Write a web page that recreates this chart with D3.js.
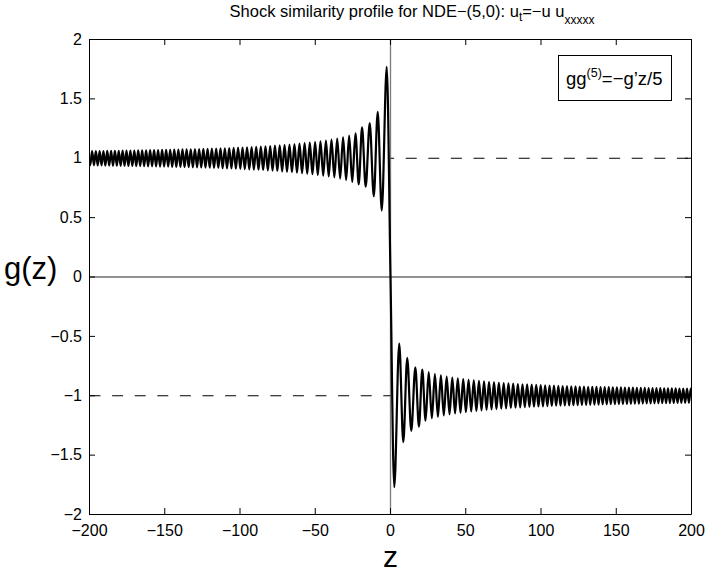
<!DOCTYPE html>
<html>
<head>
<meta charset="utf-8">
<script src="https://cdn.jsdelivr.net/npm/d3@7"></script>
<style>
  html, body { margin: 0; padding: 0; background: #fff; }
  svg { display: block; }
  text { font-family: "Liberation Sans", Arial, Helvetica, sans-serif; fill: #000; }
</style>
</head>
<body>
<svg id="chart" width="709" height="577"></svg>
<script>
// ---------------- data ----------------
const titleMain = "Shock similarity profile for NDE\u2212(5,0): u";
const titleSub1 = "t";
const titleMid = "=\u2212u u";
const titleSub2 = "xxxxx";
const legendMain = "gg";
const legendSup = "(5)";
const legendRest = "=\u2212g\u2019z/5";
const xLabel = "z";
const yLabel = "g(z)";

const xTicks = [-200, -150, -100, -50, 0, 50, 100, 150, 200];
const xTickLabels = ["\u2212200", "\u2212150", "\u2212100", "\u221250", "0", "50", "100", "150", "200"];
const yTicks = [-2, -1.5, -1, -0.5, 0, 0.5, 1, 1.5, 2];
const yTickLabels = ["\u22122", "\u22121.5", "\u22121", "\u22120.5", "0", "0.5", "1", "1.5", "2"];

// far-field levels (dashed references)
const levelLeft = 1;    // g -> 1 for z -> -inf
const levelRight = -1;  // g -> -1 for z -> +inf

// centre of the shock
const centerZ = [0];
const centerG = [0];

// extrema of g(z) for z > 0
const rightZ = [2.5, 5.8, 8.5, 11.1, 13.8, 16.5, 18.9, 21.12, 23.28, 25.40, 27.47, 29.50, 31.50, 33.47, 35.41, 37.32,
  39.21, 41.06, 42.90, 44.72, 46.53, 48.33, 50.10, 51.87, 53.62, 55.35, 57.07, 58.78, 60.47, 62.15, 63.82, 65.48,
  67.13, 68.77, 70.39, 72.00, 73.60, 75.20, 76.79, 78.37, 79.94, 81.51, 83.07, 84.62, 86.16, 87.70, 89.24, 90.77,
  92.29, 93.81, 95.32, 96.82, 98.31, 99.80, 101.28, 102.75, 104.22, 105.69, 107.16, 108.62, 110.07, 111.52, 112.96,
  114.40, 115.83, 117.26, 118.69, 120.11, 121.53, 122.94, 124.35, 125.76, 127.16, 128.55, 129.94, 131.33, 132.71,
  134.10, 135.48, 136.85, 138.23, 139.59, 140.96, 142.32, 143.67, 145.03, 146.38, 147.73, 149.08, 150.42, 151.76,
  153.10, 154.43, 155.76, 157.09, 158.41, 159.73, 161.06, 162.38, 163.69, 165.01, 166.32, 167.63, 168.93, 170.23,
  171.53, 172.83, 174.13, 175.42, 176.71, 178.00, 179.28, 180.56, 181.84, 183.11, 184.38, 185.65, 186.93, 188.20,
  189.47, 190.74, 192.00, 193.26, 194.52, 195.78, 197.03, 198.28, 199.53, 200.78];
const rightG = [-1.77, -0.56, -1.39, -0.68, -1.295, -0.76, -1.26, -0.78, -1.21, -0.80, -1.19, -0.817, -1.177, -0.829,
  -1.166, -0.839, -1.157, -0.847, -1.149, -0.854, -1.143, -0.860, -1.137, -0.866, -1.132, -0.870, -1.127, -0.875,
  -1.123, -0.879, -1.119, -0.883, -1.115, -0.886, -1.112, -0.890, -1.109, -0.893, -1.106, -0.896, -1.103, -0.898,
  -1.100, -0.901, -1.098, -0.903, -1.096, -0.905, -1.094, -0.907, -1.092, -0.909, -1.090, -0.911, -1.089, -0.912,
  -1.087, -0.914, -1.086, -0.915, -1.084, -0.916, -1.083, -0.918, -1.082, -0.919, -1.081, -0.920, -1.080, -0.921,
  -1.079, -0.922, -1.078, -0.923, -1.077, -0.924, -1.076, -0.925, -1.075, -0.926, -1.074, -0.927, -1.073, -0.927,
  -1.072, -0.928, -1.071, -0.929, -1.071, -0.930, -1.070, -0.930, -1.069, -0.931, -1.069, -0.932, -1.068, -0.932,
  -1.067, -0.933, -1.067, -0.934, -1.066, -0.934, -1.065, -0.935, -1.065, -0.935, -1.064, -0.936, -1.064, -0.936,
  -1.063, -0.937, -1.063, -0.937, -1.062, -0.938, -1.062, -0.938, -1.061, -0.939, -1.061, -0.939, -1.060, -0.940,
  -1.060, -0.940, -1.060];

// extrema of g(z) for z < 0 (nearest the shock first)
const leftZ = [-2.5, -5.8, -8.5, -11.1, -13.8, -16.5, -18.9, -21.12, -23.28, -25.40, -27.47, -29.50, -31.50, -33.47,
  -35.41, -37.32, -39.21, -41.06, -42.90, -44.72, -46.53, -48.33, -50.10, -51.87, -53.62, -55.35, -57.07, -58.78,
  -60.47, -62.15, -63.82, -65.48, -67.13, -68.77, -70.39, -72.00, -73.60, -75.20, -76.79, -78.37, -79.94, -81.51,
  -83.07, -84.62, -86.16, -87.70, -89.24, -90.77, -92.29, -93.81, -95.32, -96.82, -98.31, -99.80, -101.28, -102.75,
  -104.22, -105.69, -107.16, -108.62, -110.07, -111.52, -112.96, -114.40, -115.83, -117.26, -118.69, -120.11,
  -121.53, -122.94, -124.35, -125.76, -127.16, -128.55, -129.94, -131.33, -132.71, -134.10, -135.48, -136.85,
  -138.23, -139.59, -140.96, -142.32, -143.67, -145.03, -146.38, -147.73, -149.08, -150.42, -151.76, -153.10,
  -154.43, -155.76, -157.09, -158.41, -159.73, -161.06, -162.38, -163.69, -165.01, -166.32, -167.63, -168.93,
  -170.23, -171.53, -172.83, -174.13, -175.42, -176.71, -178.00, -179.28, -180.56, -181.84, -183.11, -184.38,
  -185.65, -186.93, -188.20, -189.47, -190.74, -192.00, -193.26, -194.52, -195.78, -197.03, -198.28, -199.53, -200.78];
const leftG = [1.77, 0.56, 1.39, 0.68, 1.295, 0.76, 1.26, 0.78, 1.21, 0.80, 1.19, 0.817, 1.177, 0.829,
  1.166, 0.839, 1.157, 0.847, 1.149, 0.854, 1.143, 0.860, 1.137, 0.866, 1.132, 0.870, 1.127, 0.875,
  1.123, 0.879, 1.119, 0.883, 1.115, 0.886, 1.112, 0.890, 1.109, 0.893, 1.106, 0.896, 1.103, 0.898,
  1.100, 0.901, 1.098, 0.903, 1.096, 0.905, 1.094, 0.907, 1.092, 0.909, 1.090, 0.911, 1.089, 0.912,
  1.087, 0.914, 1.086, 0.915, 1.084, 0.916, 1.083, 0.918, 1.082, 0.919, 1.081, 0.920, 1.080, 0.921,
  1.079, 0.922, 1.078, 0.923, 1.077, 0.924, 1.076, 0.925, 1.075, 0.926, 1.074, 0.927, 1.073, 0.927,
  1.072, 0.928, 1.071, 0.929, 1.071, 0.930, 1.070, 0.930, 1.069, 0.931, 1.069, 0.932, 1.068, 0.932,
  1.067, 0.933, 1.067, 0.934, 1.066, 0.934, 1.065, 0.935, 1.065, 0.935, 1.064, 0.936, 1.064, 0.936,
  1.063, 0.937, 1.063, 0.937, 1.062, 0.938, 1.062, 0.938, 1.061, 0.939, 1.061, 0.939, 1.060, 0.940,
  1.060, 0.940, 1.060];

// ---------------- drawing ----------------
const svg = d3.select("#chart");
const W = 709, H = 577;
const plot = { left: 89, right: 691, top: 39, bottom: 514 };

const x = d3.scaleLinear().domain([-200, 200]).range([plot.left, plot.right]);
const y = d3.scaleLinear().domain([-2, 2]).range([plot.bottom, plot.top]);
const px = v => x(v) + 0.5;
const py = v => y(v) + 0.5;

svg.append("rect").attr("width", W).attr("height", H).attr("fill", "#fff");

// clip
svg.append("defs").append("clipPath").attr("id", "clip")
  .append("rect")
  .attr("x", plot.left + 0.5).attr("y", plot.top + 0.5)
  .attr("width", plot.right - plot.left).attr("height", plot.bottom - plot.top);

const g = svg.append("g");

// zero lines
g.append("line")
  .attr("x1", px(0)).attr("x2", px(0))
  .attr("y1", py(2)).attr("y2", py(-2))
  .attr("stroke", "#7a7a7a").attr("stroke-width", 1.3);
g.append("line")
  .attr("x1", px(-200)).attr("x2", px(200))
  .attr("y1", py(0)).attr("y2", py(0))
  .attr("stroke", "#262626").attr("stroke-width", 1);

// dashed reference levels
g.append("line")
  .attr("x1", px(0)).attr("x2", px(200))
  .attr("y1", py(levelLeft)).attr("y2", py(levelLeft))
  .attr("stroke", "#000").attr("stroke-width", 1)
  .attr("stroke-dasharray", "11,11.6").attr("stroke-dashoffset", 7.4);
g.append("line")
  .attr("x1", px(-200)).attr("x2", px(0))
  .attr("y1", py(levelRight)).attr("y2", py(levelRight))
  .attr("stroke", "#000").attr("stroke-width", 1)
  .attr("stroke-dasharray", "11,11.6").attr("stroke-dashoffset", 0);

// curve
const pts = [];
for (let i = leftZ.length - 1; i >= 0; i--) pts.push([leftZ[i], leftG[i]]);
for (let i = 0; i < centerZ.length; i++) pts.push([centerZ[i], centerG[i]]);
for (let i = 0; i < rightZ.length; i++) pts.push([rightZ[i], rightG[i]]);

const line = d3.line()
  .x(d => x(d[0]) + 0.5)
  .y(d => y(d[1]) + 0.5)
  .curve(d3.curveMonotoneX);

g.append("path")
  .datum(pts)
  .attr("clip-path", "url(#clip)")
  .attr("d", line)
  .attr("fill", "none")
  .attr("stroke", "#000")
  .attr("stroke-width", 2.2)
  .attr("stroke-linejoin", "round");

// axes
const fontSize = 16;
const xAxis = d3.axisBottom(x).tickValues(xTicks)
  .tickFormat((d, i) => xTickLabels[i]).tickSizeInner(-6).tickSizeOuter(0).tickPadding(11);
const yAxis = d3.axisLeft(y).tickValues(yTicks)
  .tickFormat((d, i) => yTickLabels[i]).tickSizeInner(-6).tickSizeOuter(0).tickPadding(7);
const xAxisTop = d3.axisTop(x).tickValues(xTicks).tickFormat("").tickSizeInner(-6).tickSizeOuter(0);
const yAxisRight = d3.axisRight(y).tickValues(yTicks).tickFormat("").tickSizeInner(-6).tickSizeOuter(0);

function styleAxis(sel) {
  sel.selectAll("path.domain").attr("stroke", "#000").attr("stroke-width", 1);
  sel.selectAll(".tick line").attr("stroke", "#000").attr("stroke-width", 1);
  sel.selectAll(".tick text").attr("font-size", fontSize)
    .attr("font-family", "'Liberation Sans', Arial, Helvetica, sans-serif").attr("fill", "#000");
}

svg.append("g").attr("transform", `translate(0,${plot.bottom})`).call(xAxis).call(styleAxis);
svg.append("g").attr("transform", `translate(${plot.left},0)`).call(yAxis).call(styleAxis);
svg.append("g").attr("transform", `translate(0,${plot.top})`).call(xAxisTop).call(styleAxis);
svg.append("g").attr("transform", `translate(${plot.right},0)`).call(yAxisRight).call(styleAxis);

// legend
const lg = svg.append("g");
lg.append("rect")
  .attr("x", 558.5).attr("y", 55.5).attr("width", 113).attr("height", 45)
  .attr("fill", "#fff").attr("stroke", "#000").attr("stroke-width", 1);
const lt = lg.append("text").attr("x", 566).attr("y", 85).attr("font-size", 18.5);
lt.append("tspan").text(legendMain);
lt.append("tspan").attr("font-size", 12.5).attr("dy", -8).text(legendSup);
lt.append("tspan").attr("dy", 8).text(legendRest);

// title
const tt = svg.append("text").attr("x", 412).attr("y", 17).attr("text-anchor", "middle").attr("font-size", 16.5);
tt.append("tspan").text(titleMain);
tt.append("tspan").attr("font-size", 12).attr("dy", 4).text(titleSub1);
tt.append("tspan").attr("dy", -4).text(titleMid);
tt.append("tspan").attr("font-size", 12).attr("dy", 7).text(titleSub2);

// axis labels
svg.append("text").attr("x", px(0)).attr("y", 567).attr("text-anchor", "middle")
  .attr("font-size", 30).text(xLabel);
svg.append("text").attr("x", 4).attr("y", 279).attr("text-anchor", "start")
  .attr("font-size", 31).text(yLabel);
</script>
</body>
</html>
